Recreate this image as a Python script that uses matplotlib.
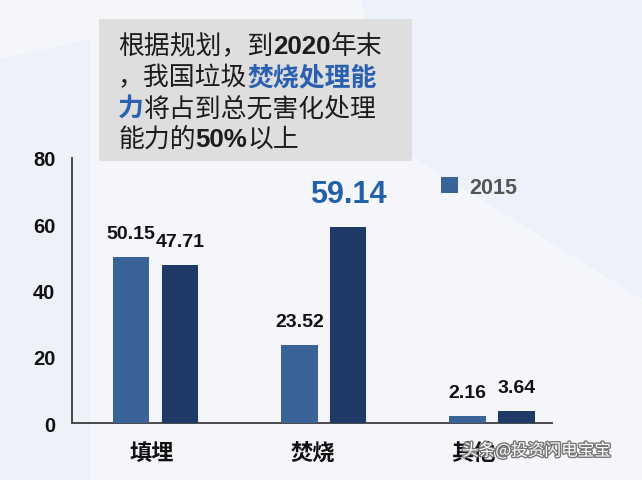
import numpy as np
import matplotlib
matplotlib.use('Agg')
import matplotlib.pyplot as plt
from matplotlib.patches import Rectangle, Polygon
from matplotlib.transforms import IdentityTransform
import matplotlib.patheffects as pe

# ---------------- data ----------------
categories = ['填埋', '焚烧', '其他']
series_2015 = [50.15, 23.52, 2.16]
series_2020 = [47.71, 59.14, 3.64]
series_names = ['2015', '2020']
yticks = [0, 20, 40, 60, 80]

# ---------------- setup ----------------
W, H = 642, 481
LAT = ['Liberation Sans', 'Noto Sans CJK SC', 'DejaVu Sans']
CJK = ['Noto Sans CJK SC', 'DejaVu Sans']
plt.rcParams['font.family'] = LAT

fig = plt.figure(figsize=(W / 100, H / 100), dpi=100)
fig.patch.set_facecolor('#F4F6FA')


def px(x, y):
    return (x / W, 1 - y / H)


# soft background shapes
fig.add_artist(Polygon([px(360, 0), px(642, 0), px(642, 300), px(400, 150)],
                       closed=True, transform=fig.transFigure,
                       facecolor='#ECF1FA', edgecolor='none', zorder=-2))
fig.add_artist(Polygon([px(0, 60), px(90, 40), px(90, 481), px(0, 481)],
                       closed=True, transform=fig.transFigure,
                       facecolor='#EEF2F8', edgecolor='none', zorder=-2))

# ---------------- axes ----------------
ax = fig.add_axes([72 / W, 1 - 424 / H, (552 - 72) / W, (424 - 159) / H])
ax.set_facecolor('none')

x = np.arange(len(categories))
off, bw = 0.145, 0.217
c1, c2 = '#3A6398', '#1F3A66'
b1 = ax.bar(x - off, series_2015, bw, color=c1, zorder=3, label=series_names[0])
b2 = ax.bar(x + off, series_2020, bw, color=c2, zorder=3, label=series_names[1])

ax.set_xlim(-0.496, 2.357)
ax.set_ylim(0, 80)
for s in ['top', 'right']:
    ax.spines[s].set_visible(False)
for s in ['left', 'bottom']:
    ax.spines[s].set_color('#3A3A3A')
    ax.spines[s].set_linewidth(1.3)

ax.set_yticks(yticks)
ax.set_yticklabels([str(t) for t in yticks], fontsize=14.5, fontweight='bold', color='#111111')
ax.tick_params(axis='y', length=0, pad=12)

ax.set_xticks(x - np.array([0.02, 0.065, 0.11]))
ax.set_xticklabels(categories, fontsize=16, fontweight='bold', color='#111111', family=CJK)
ax.tick_params(axis='x', length=0, pad=13)

# value labels
imax = int(np.argmax(series_2020))
for bars, vals in ((b1, series_2015), (b2, series_2020)):
    for i, (r, v) in enumerate(zip(bars, vals)):
        cx = r.get_x() + r.get_width() / 2
        if bars is b2 and i == imax:
            ax.annotate(f'{v:.2f}', (cx, v), xytext=(0, 13), textcoords='offset points',
                        ha='center', va='bottom', fontsize=22, fontweight='bold',
                        color='#2260A8', zorder=5)
        else:
            ax.annotate(f'{v:.2f}', (cx, v), xytext=(0, 11), textcoords='offset points',
                        ha='center', va='bottom', fontsize=14, fontweight='bold',
                        color='#111111', zorder=5)

# legend (only first entry visible in reference)
leg = ax.legend([b1], [series_names[0]], loc='center left',
                bbox_to_anchor=(441 / W, 1 - 188 / H), bbox_transform=fig.transFigure,
                frameon=False, prop={'size': 15.5, 'weight': 'bold'},
                handlelength=0.8, handleheight=0.8, handletextpad=0.5,
                borderpad=0, borderaxespad=0)
for t in leg.get_texts():
    t.set_color('#555555')

# ---------------- annotation box ----------------
fig.add_artist(Rectangle(px(99, 162), (412 - 99) / W, (162 - 20) / H,
                         transform=fig.transFigure, facecolor='#DEDEDE',
                         edgecolor='none', zorder=4))

dark, blue = '#1C1C1C', '#2B5FAF'
lines = [
    [('根据规划，到', False, dark), ('2020', True, dark), ('年末', False, dark)],
    [('，我国垃圾', False, dark), ('焚烧处理能', True, blue)],
    [('力', True, blue), ('将占到总无害化处理', False, dark)],
    [('能力的', False, dark), ('50%', True, dark), ('以上', False, dark)],
]
renderer = fig.canvas.get_renderer()
for i, segs in enumerate(lines):
    xx = 118
    yy = H - (54 + 31 * i)
    for s, bold, col in segs:
        t = fig.text(xx, yy, s, transform=IdentityTransform(), fontsize=18.6,
                     fontweight='bold' if bold else 'normal', color=col,
                     family=LAT, ha='left', va='baseline', zorder=6)
        bb = t.get_window_extent(renderer)
        xx = bb.x1

# watermark
fig.text(462 / W, 1 - 452 / H, '头条@投资闪电宝宝', fontsize=12, color='white',
         family=CJK, ha='left', va='center', zorder=10,
         path_effects=[pe.withStroke(linewidth=2, foreground='#777777')])

fig.savefig('out.png', dpi=100, facecolor=fig.get_facecolor())
